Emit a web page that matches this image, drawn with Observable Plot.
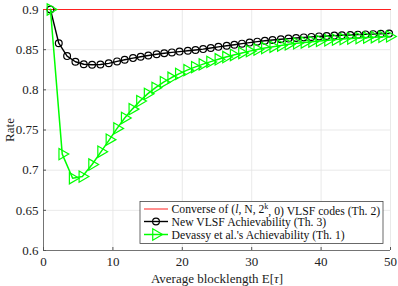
<!DOCTYPE html>
<html>
<head>
<meta charset="utf-8">
<script src="https://cdn.jsdelivr.net/npm/d3@7"></script>
<script src="https://cdn.jsdelivr.net/npm/@observablehq/plot@0.6"></script>
<style>
  html, body { margin: 0; padding: 0; background: #fff; }
  svg { display: block; }
</style>
</head>
<body>
<div id="chart"></div>
<script>
// ---- data ----
const xTicks = [0, 10, 20, 30, 40, 50];
const yTicks = [0.6, 0.65, 0.7, 0.75, 0.8, 0.85, 0.9];

const converseX = [0, 50];
const converseY = [0.9, 0.9];

const newX = [1, 2.2, 3.4, 4.6, 5.8, 7.0, 8.2, 9.4, 10.6, 11.7, 12.9, 14.0, 15.1, 16.3, 17.4, 18.5, 19.6, 20.8, 21.9, 23.0, 24.1, 25.2, 26.4, 27.5, 28.6, 29.7, 30.8, 31.9, 33.0, 34.2, 35.3, 36.4, 37.5, 38.6, 39.7, 40.8, 41.9, 43.0, 44.2, 45.3, 46.4, 47.5, 48.6, 49.8];
const newY = [0.900, 0.858, 0.842, 0.835, 0.8318, 0.8312, 0.8316, 0.833, 0.8354, 0.8375, 0.8395, 0.8412, 0.8428, 0.8443, 0.8455, 0.8466, 0.8476, 0.8486, 0.8496, 0.8507, 0.8521, 0.8535, 0.8549, 0.8562, 0.8575, 0.8588, 0.8600, 0.8611, 0.8621, 0.863, 0.8638, 0.8646, 0.8653, 0.8659, 0.8665, 0.867, 0.8675, 0.8679, 0.8683, 0.8687, 0.869, 0.8693, 0.8697, 0.8702];

const devX = [1, 2.7, 4.2, 5.6, 7.0, 8.3, 9.5, 10.6, 11.7, 12.8, 13.9, 15.0, 16.1, 17.3, 18.4, 19.5, 20.7, 21.8, 22.9, 24.0, 25.2, 26.3, 27.4, 28.6, 29.7, 30.8, 31.9, 33.1, 34.2, 35.3, 36.5, 37.6, 38.7, 39.8, 41.0, 42.1, 43.2, 44.3, 45.5, 46.6, 47.7, 48.8, 49.9];
const devY = [0.900, 0.720, 0.690, 0.692, 0.707, 0.723, 0.738, 0.752, 0.765, 0.776, 0.786, 0.795, 0.8025, 0.8095, 0.815, 0.8198, 0.8245, 0.8283, 0.8317, 0.8348, 0.838, 0.8408, 0.8434, 0.8459, 0.8482, 0.8502, 0.852, 0.8537, 0.8552, 0.8566, 0.8579, 0.859, 0.86, 0.8609, 0.8617, 0.8625, 0.8632, 0.8638, 0.8644, 0.865, 0.8655, 0.866, 0.8665];

const legendLabels = [
  "Converse of (l, N, 2^k, 0) VLSF codes (Th. 2)",
  "New VLSF Achievability (Th. 3)",
  "Devassy et al.'s Achievability (Th. 1)"
];

// ---- build tables ----
const conv = converseX.map((x, i) => ({x, y: converseY[i]}));
const nw = newX.map((x, i) => ({x, y: newY[i]}));
const dv = devX.map((x, i) => ({x, y: devY[i]}));

const serif = "'Liberation Serif', 'Times New Roman', serif";
const green = "#00ff00";

const plot = Plot.plot({
  width: 398,
  height: 286,
  marginLeft: 43,
  marginRight: 8,
  marginTop: 9,
  marginBottom: 36,
  style: {fontFamily: serif, fontSize: "13px", color: "#222", background: "#fff"},
  x: {domain: [0, 50]},
  y: {domain: [0.6, 0.9]},
  marks: [
    Plot.gridX(xTicks, {stroke: "#e3e3e3", strokeOpacity: 1, strokeWidth: 0.8}),
    Plot.gridY(yTicks, {stroke: "#e3e3e3", strokeOpacity: 1, strokeWidth: 0.8}),
    Plot.ruleX([0], {stroke: "#555", strokeWidth: 0.8}),
    Plot.ruleY([0.6], {stroke: "#555", strokeWidth: 0.8}),
    Plot.axisX(xTicks, {tickSize: -3, tickPadding: 9, stroke: "#555", fontSize: 13,
      label: "Average blocklength E[τ]", labelAnchor: "center", labelArrow: "none", labelOffset: 32}),
    Plot.axisY(yTicks, {tickSize: -3, tickPadding: 8, stroke: "#555", fontSize: 13,
      tickFormat: d => String(+d.toFixed(2)),
      label: "Rate", labelAnchor: "center", labelArrow: "none", labelOffset: 39}),
    Plot.line(conv, {x: "x", y: "y", stroke: "#ff2020", strokeWidth: 1}),
    Plot.line(nw, {x: "x", y: "y", stroke: "#000", strokeWidth: 1.4}),
    Plot.dot(nw, {x: "x", y: "y", r: 3.4, stroke: "#000", strokeWidth: 1.2, fill: "none"}),
    Plot.line(dv, {x: "x", y: "y", stroke: green, strokeWidth: 1.5}),
    Plot.dot(dv, {x: "x", y: "y", symbol: "triangle", rotate: 90, r: 4.2, stroke: green, strokeWidth: 1.2, fill: "none"})
  ]
});

document.getElementById("chart").append(plot);

// italic tau in x label
const svg = d3.select(plot);
svg.selectAll("text").each(function() {
  const t = d3.select(this);
  const s = t.text();
  if (s === "Average blocklength E[τ]") {
    t.text(null);
    t.append("tspan").text("Average blocklength E[");
    t.append("tspan").attr("font-style", "italic").text("τ");
    t.append("tspan").text("]");
  }
});

// ---- legend ----
const lg = svg.append("g").attr("font-family", serif).attr("font-size", 11.7)
  .attr("fill", "#111").attr("text-anchor", "start");
const bx = 140, by = 201.5, bw = 243, bh = 42;
lg.append("rect").attr("x", bx).attr("y", by).attr("width", bw).attr("height", bh)
  .attr("fill", "#fff").attr("stroke", "#444").attr("stroke-width", 0.8);
const rows = [209, 221.5, 234.5];
const sx0 = 144, sx1 = 168, tx = 171.5;
lg.append("line").attr("x1", sx0).attr("x2", sx1).attr("y1", rows[0]).attr("y2", rows[0])
  .attr("stroke", "#ff2020").attr("stroke-width", 1);
lg.append("line").attr("x1", sx0).attr("x2", sx1).attr("y1", rows[1]).attr("y2", rows[1])
  .attr("stroke", "#000").attr("stroke-width", 1.4);
lg.append("circle").attr("cx", (sx0 + sx1) / 2).attr("cy", rows[1]).attr("r", 3.4)
  .attr("fill", "none").attr("stroke", "#000").attr("stroke-width", 1.2);
lg.append("line").attr("x1", sx0).attr("x2", sx1).attr("y1", rows[2]).attr("y2", rows[2])
  .attr("stroke", green).attr("stroke-width", 1.5);
const tri = d3.symbol(d3.symbolTriangle, Math.PI * 4.2 * 4.2)();
lg.append("path").attr("d", tri)
  .attr("transform", `translate(${(sx0 + sx1) / 2},${rows[2]}) rotate(90)`)
  .attr("fill", "none").attr("stroke", green).attr("stroke-width", 1.2);

const t1 = lg.append("text").attr("x", tx).attr("y", rows[0]).attr("dy", "0.35em");
t1.append("tspan").text("Converse of (");
t1.append("tspan").attr("font-style", "italic").text("l");
t1.append("tspan").text(", N, 2");
t1.append("tspan").attr("font-size", 8).attr("dy", "-0.45em").text("k");
t1.append("tspan").attr("dy", "0.45em").text(", 0) VLSF codes (Th. 2)");
lg.append("text").attr("x", tx).attr("y", rows[1]).attr("dy", "0.35em").text(legendLabels[1]);
lg.append("text").attr("x", tx).attr("y", rows[2]).attr("dy", "0.35em").text(legendLabels[2]);
</script>
</body>
</html>
